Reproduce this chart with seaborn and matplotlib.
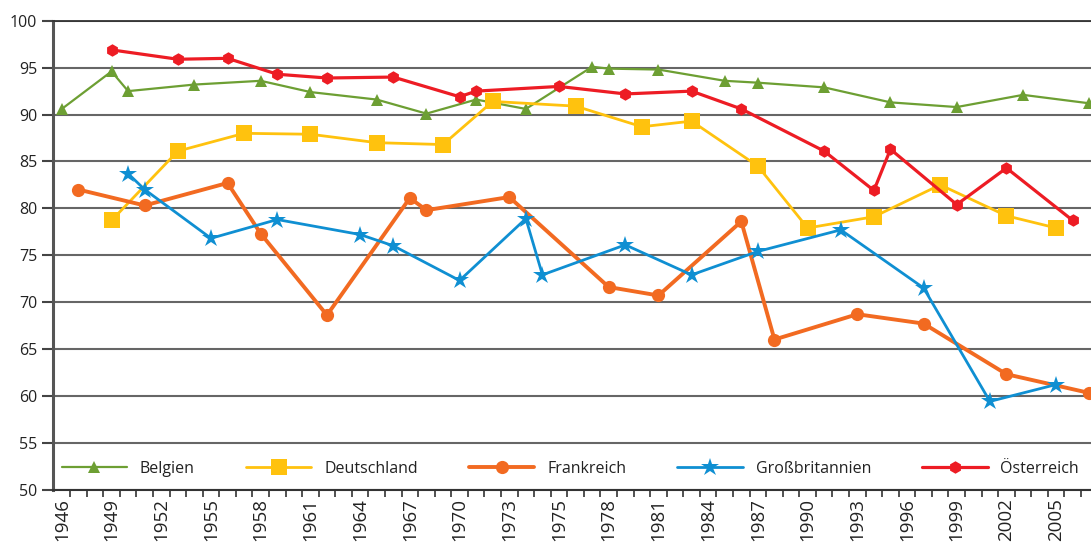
import matplotlib
matplotlib.use("Agg")
import matplotlib.pyplot as plt
import seaborn as sns
import numpy as np

sns.set_theme(style="white")
plt.rcParams['font.family'] = ['Open Sans', 'DejaVu Sans']
plt.rcParams['axes.unicode_minus'] = False

# x axis: category index, labels on every third category
TICK_POS = list(range(0, 61, 3))
TICK_LABELS = ["1946", "1949", "1952", "1955", "1958", "1961", "1964", "1967", "1970", "1973",
               "1975", "1978", "1981", "1984", "1987", "1990", "1993", "1996", "1999", "2002", "2005"]

belgien_x = [0, 3, 4, 8, 12, 15, 19, 22, 25, 28, 32, 33, 36, 40, 42, 46, 50, 54, 58, 62]
belgien_y = [90.6, 94.6, 92.5, 93.2, 93.6, 92.4, 91.6, 90.1, 91.6, 90.6, 95.1, 94.9, 94.8, 93.6,
             93.4, 92.9, 91.3, 90.8, 92.1, 91.2]

deutschland_x = [3, 7, 11, 15, 19, 23, 26, 31, 35, 38, 42, 45, 49, 53, 57, 60]
deutschland_y = [78.7, 86.1, 88.0, 87.9, 87.0, 86.8, 91.4, 90.9, 88.7, 89.3, 84.5, 77.9, 79.1,
                 82.5, 79.2, 77.9]

frankreich_x = [1, 5, 10, 12, 16, 21, 22, 27, 33, 36, 41, 43, 48, 52, 57, 62]
frankreich_y = [82.0, 80.3, 82.7, 77.3, 68.6, 81.1, 79.8, 81.2, 71.6, 70.7, 78.6, 66.0, 68.7,
                67.7, 62.3, 60.3]

gb_x = [4, 5, 9, 13, 18, 20, 24, 28, 29, 34, 38, 42, 47, 52, 56, 60]
gb_y = [83.7, 82.0, 76.8, 78.8, 77.2, 76.0, 72.3, 78.9, 72.9, 76.1, 72.9, 75.4, 77.7, 71.5,
        59.4, 61.2]

oesterreich_x = [3, 7, 10, 13, 16, 20, 24, 25, 30, 34, 38, 41, 46, 49, 50, 54, 57, 61]
oesterreich_y = [96.9, 95.9, 96.0, 94.3, 93.9, 94.0, 91.9, 92.5, 93.0, 92.2, 92.5, 90.6, 86.1,
                 81.9, 86.3, 80.4, 84.3, 78.7]

series = [
    ("Belgien", belgien_x, belgien_y, "#6d9f33", "^", 9, 1.6),
    ("Deutschland", deutschland_x, deutschland_y, "#ffc20e", "s", 11.5, 2.0),
    ("Frankreich", frankreich_x, frankreich_y, "#f26a21", "o", 9.5, 2.8),
    ("Großbritannien", gb_x, gb_y, "#0f8fd2", "*", 13.5, 2.0),
    ("Österreich", oesterreich_x, oesterreich_y, "#ed1c24", "h", 9, 2.3),
]

fig = plt.figure(figsize=(10.91, 5.45), dpi=100)
ax = fig.add_axes([0.0483, 0.1018, 0.9517, 0.860])

for name, xs, ys, col, mk, ms, lw in series:
    sns.lineplot(x=xs, y=ys, ax=ax, color=col, marker=mk, markersize=ms, linewidth=lw,
                 markeredgewidth=0, label=name, sort=False, clip_on=False)

ax.set_xlim(-0.55, 62.1)
ax.set_ylim(50, 100)
ax.set_yticks(np.arange(50, 101, 5))
ax.set_xticks(TICK_POS)
ax.set_xticklabels(TICK_LABELS, rotation=90)
ax.set_xticks(np.arange(0.5, 62, 1), minor=True)
ax.set_xlabel("")
ax.set_ylabel("")

ax.yaxis.grid(True, color="#666666", linewidth=1.5)
ax.xaxis.grid(False)
ax.set_axisbelow(True)

ax.tick_params(axis="y", which="major", direction="out", length=8, width=1.5,
               color="#444444", labelsize=11.5, labelcolor="#222222", pad=3, left=True)
ax.tick_params(axis="x", which="major", length=0, labelsize=13.5, labelcolor="#222222", pad=6)
ax.tick_params(axis="x", which="minor", direction="out", length=5, width=1.2,
               color="#333333", bottom=True)

ax.spines["right"].set_visible(False)
ax.spines["top"].set_color("#333333")
ax.spines["top"].set_linewidth(1.3)
ax.spines["left"].set_color("#555555")
ax.spines["left"].set_linewidth(2.2)
ax.spines["bottom"].set_color("#333333")
ax.spines["bottom"].set_linewidth(1.5)

ax.legend(ncol=5, loc="center left", bbox_to_anchor=(0.0087, 0.044), frameon=False,
          fontsize=11.5, handlelength=4.1, handletextpad=0.8, columnspacing=3.2,
          borderpad=0, borderaxespad=0, labelcolor="#222222")

fig.savefig("out.png", dpi=100)
